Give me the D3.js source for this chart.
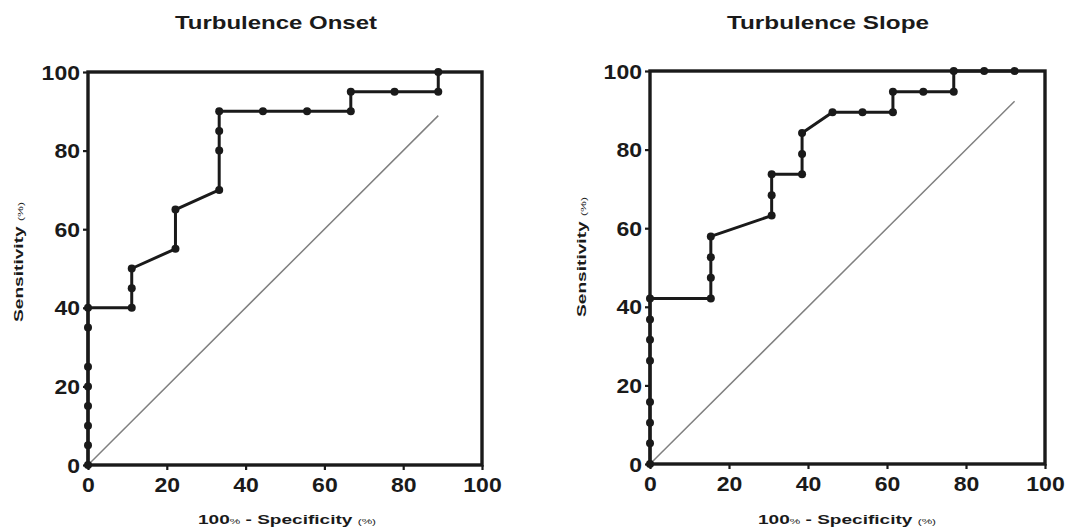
<!DOCTYPE html>
<html>
<head>
<meta charset="utf-8">
<script src="https://cdn.jsdelivr.net/npm/d3@7"></script>
<style>
  body { margin: 0; background: #fff; }
  text { font-family: "Liberation Sans", Arial, sans-serif; font-weight: bold; fill: #1a1a1a; }
</style>
</head>
<body>
<svg id="chart" width="1065" height="531"></svg>
<script>
// ROC points (x = 100% - specificity, y = sensitivity)
const onsetFpr = [0, 0, 0, 0, 0, 0, 0, 0, 11.1, 11.1, 11.1, 22.2, 22.2, 33.3, 33.3, 33.3, 33.3, 44.4, 55.6, 66.7, 66.7, 77.8, 88.9, 88.9]
const onsetTpr = [0, 5, 10, 15, 20, 25, 35, 40, 40, 45, 50, 55, 65, 70, 80, 85, 90, 90, 90, 90, 95, 95, 95, 100]

const slopeFpr = [0, 0, 0, 0, 0, 0, 0, 0, 15.4, 15.4, 15.4, 15.4, 30.8, 30.8, 30.8, 38.5, 38.5, 38.5, 46.2, 53.8, 61.5, 61.5, 69.2, 76.9, 76.9, 84.6, 92.3]
const slopeTpr = [0, 5.3, 10.5, 15.8, 26.3, 31.6, 36.8, 42.1, 42.1, 47.4, 52.6, 57.9, 63.2, 68.4, 73.7, 73.7, 78.9, 84.2, 89.5, 89.5, 89.5, 94.7, 94.7, 94.7, 100, 100, 100]

// line of identity ends where the curve ends
const onsetDiagEnd = 88.9
const slopeDiagEnd = 92.3

const tickValues = [0, 20, 40, 60, 80, 100]
const titles = ["Turbulence Onset", "Turbulence Slope"]

const svg = d3.select("#chart")
const ink = "#1a1a1a"

function drawRoc(cfg) {
  const x = d3.scaleLinear().domain([0, 100]).range([cfg.left, cfg.right])
  const y = d3.scaleLinear().domain([0, 100]).range([cfg.bottom, cfg.top])
  const g = svg.append("g")

  // title
  g.append("text")
    .attr("x", cfg.titleX).attr("y", 29)
    .attr("text-anchor", "middle")
    .attr("font-size", 18.5)
    .attr("textLength", 202).attr("lengthAdjust", "spacingAndGlyphs")
    .text(cfg.title)

  // diagonal
  g.append("line")
    .attr("x1", x(0)).attr("y1", y(0))
    .attr("x2", x(cfg.diag)).attr("y2", y(cfg.diag))
    .attr("stroke", "#808080").attr("stroke-width", 1.5)

  // axes
  const yAxis = g.append("g")
    .attr("transform", `translate(${cfg.left},0)`)
    .call(d3.axisLeft(y).tickValues(tickValues).tickSize(5).tickPadding(3).tickFormat(d3.format("d")))
  const xAxis = g.append("g")
    .attr("transform", `translate(0,${cfg.bottom})`)
    .call(d3.axisBottom(x).tickValues(tickValues).tickSize(5).tickPadding(8).tickFormat(d3.format("d")))

  for (const ax of [yAxis, xAxis]) {
    ax.select(".domain").remove()
    ax.selectAll(".tick line").attr("stroke", ink).attr("stroke-width", 2.2)
    ax.selectAll(".tick text")
      .attr("fill", ink)
      .style("font-family", '"Liberation Sans", Arial, sans-serif')
      .style("font-weight", "bold")
      .style("font-size", "19.5px")
      .attr("textLength", d => String(d).length * 12.8)
      .attr("lengthAdjust", "spacingAndGlyphs")
  }
  yAxis.selectAll(".tick text").attr("dy", "0.36em")
  xAxis.selectAll(".tick text").attr("dy", "0.72em")

  // frame
  g.append("rect")
    .attr("x", x(0)).attr("y", y(100))
    .attr("width", x(100) - x(0)).attr("height", y(0) - y(100))
    .attr("fill", "none").attr("stroke", ink).attr("stroke-width", 3.4)

  // ROC curve
  const pts = cfg.fpr.map((v, i) => [v, cfg.tpr[i]])
  g.append("path")
    .datum(pts)
    .attr("fill", "none").attr("stroke", ink).attr("stroke-width", 3)
    .attr("stroke-linejoin", "round")
    .attr("d", d3.line().x(d => x(d[0])).y(d => y(d[1])))

  g.append("g")
    .selectAll("circle")
    .data(pts)
    .join("circle")
      .attr("cx", d => x(d[0]))
      .attr("cy", d => y(d[1]))
      .attr("r", 4)
      .attr("fill", ink)

  // y label
  const yl = g.append("text")
    .attr("transform", `translate(${cfg.yLabelX},${cfg.yLabelY}) rotate(-90)`)
    .attr("text-anchor", "middle")
    .attr("font-size", 12.5)
    .attr("textLength", 120).attr("lengthAdjust", "spacingAndGlyphs")
  yl.append("tspan").text("Sensitivity ")
  yl.append("tspan").attr("font-size", 8).attr("font-weight", "normal").text("(%)")

  // x label
  const xl = g.append("text")
    .attr("x", cfg.xLabelX).attr("y", 524)
    .attr("text-anchor", "middle")
    .attr("font-size", 13)
    .attr("textLength", 178).attr("lengthAdjust", "spacingAndGlyphs")
  xl.append("tspan").text("100")
  xl.append("tspan").attr("font-size", 8).attr("font-weight", "normal").text("%")
  xl.append("tspan").text(" - Specificity ")
  xl.append("tspan").attr("font-size", 8).attr("font-weight", "normal").text("(%)")
}

drawRoc({
  title: titles[0], fpr: onsetFpr, tpr: onsetTpr, diag: onsetDiagEnd,
  left: 88, right: 482, top: 72, bottom: 465,
  titleX: 276, yLabelX: 23, yLabelY: 262, xLabelX: 287
})
drawRoc({
  title: titles[1], fpr: slopeFpr, tpr: slopeTpr, diag: slopeDiagEnd,
  left: 650, right: 1045, top: 71, bottom: 464,
  titleX: 828, yLabelX: 586, yLabelY: 257, xLabelX: 847
})
</script>
</body>
</html>
